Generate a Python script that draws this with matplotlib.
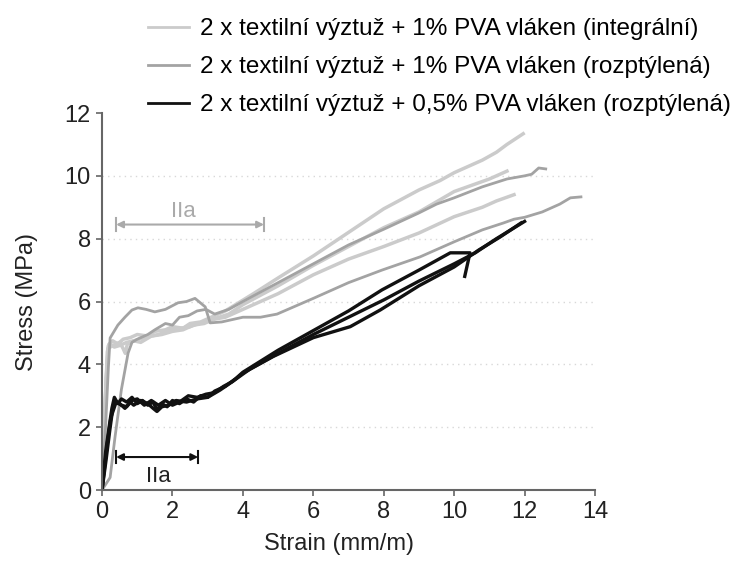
import matplotlib.pyplot as plt
from matplotlib.lines import Line2D

plt.rcParams['font.family'] = ['Liberation Sans', 'DejaVu Sans']

# --- data (strain mm/m, stress MPa) ---
# 2 x textile + 1% PVA fibres (integral) - light grey
int_a_x = [0, 0.05, 0.12, 0.18, 0.3, 0.45, 0.6, 0.8, 1.0, 1.3, 1.5, 1.8, 2.0, 2.3, 2.5, 2.8, 3.0, 3.5, 4.3, 5.0, 6.0, 7.0, 8.0,
           9.0, 9.6, 10.0, 10.8, 11.2, 11.5, 11.96]
int_a_y = [0, 1.5, 3.6, 4.6, 4.75, 4.65, 4.8, 4.85, 4.95, 4.9, 5.05, 5.1, 5.2, 5.15, 5.3, 5.35, 5.45, 5.7, 6.25, 6.75, 7.45, 8.2,
           8.95, 9.55, 9.85, 10.1, 10.5, 10.75, 11.0, 11.34]
int_b_x = [0, 0.08, 0.15, 0.2, 0.35, 0.5, 0.7, 0.9, 1.1, 1.4, 1.7, 2.0, 2.3, 2.6, 2.9, 3.2, 3.6, 4.0, 5.0, 6.0, 7.0, 8.0, 9.0,
           10.0, 10.5, 11.0, 11.5]
int_b_y = [0, 2.5, 4.4, 4.65, 4.55, 4.6, 4.7, 4.75, 4.7, 4.9, 4.95, 5.05, 5.1, 5.25, 5.3, 5.45, 5.6, 5.9, 6.5, 7.15, 7.75, 8.35,
           8.85, 9.5, 9.7, 9.9, 10.15]
int_c_x = [0, 0.1, 0.17, 0.3, 0.5, 0.6, 0.66, 0.72, 0.9, 1.2, 1.6, 2.0, 2.5, 3.0, 3.5, 4.0, 5.0, 6.0, 7.0, 8.0, 9.0, 10.0,
           10.8, 11.2, 11.7]
int_c_y = [0, 3.0, 4.5, 4.6, 4.7, 4.5, 4.35, 4.65, 4.75, 4.85, 4.95, 5.1, 5.2, 5.4, 5.5, 5.75, 6.25, 6.85, 7.35, 7.75, 8.18,
           8.7, 9.0, 9.2, 9.4]

# 2 x textile + 1% PVA fibres (dispersed) - mid grey
dis_a_x = [0, 0.23, 0.37, 0.55, 0.74, 0.85, 1.0, 1.3, 1.5, 1.8, 2.0, 2.2, 2.45, 2.7, 2.95, 3.2, 3.6, 4.0, 5.0, 6.0, 7.0, 8.0,
           9.0, 9.5, 10.0, 10.8, 11.5, 12.0, 12.2, 12.4, 12.6]
dis_a_y = [0, 0.4, 1.7, 3.2, 4.36, 4.7, 4.8, 4.95, 5.1, 5.3, 5.25, 5.5, 5.55, 5.7, 5.75, 5.6, 5.75, 6.0, 6.6, 7.2, 7.8, 8.3,
           8.82, 9.1, 9.3, 9.65, 9.9, 10.0, 10.05, 10.25, 10.22]
dis_b_x = [0, 0.1, 0.18, 0.23, 0.45, 0.65, 0.85, 1.02, 1.25, 1.5, 1.8, 2.16, 2.4, 2.64, 2.93, 3.07, 3.4, 4.0, 4.5, 4.97, 6.0,
           7.0, 7.95, 9.03, 10.0, 10.8, 11.4, 11.7, 12.0, 12.5, 13.0, 13.3, 13.6]
dis_b_y = [0, 2.0, 3.9, 4.84, 5.25, 5.5, 5.73, 5.8, 5.75, 5.67, 5.75, 5.96, 6.0, 6.1, 5.83, 5.32, 5.35, 5.5, 5.5, 5.6, 6.1,
           6.6, 7.0, 7.42, 7.9, 8.28, 8.5, 8.62, 8.68, 8.85, 9.1, 9.3, 9.33]

# 2 x textile + 0.5% PVA fibres (dispersed) - black
blk_a_x = [0, 0.1, 0.2, 0.28, 0.35, 0.45, 0.55, 0.7, 0.85, 1.0, 1.15, 1.3, 1.45, 1.56, 1.7, 1.85, 2.0, 2.2, 2.4, 2.6, 2.8,
           3.0, 3.2, 3.5, 3.8, 4.0, 4.5, 5.0, 6.2, 7.0, 7.95, 9.0, 9.89, 10.45, 10.3]
blk_a_y = [0, 1.2, 2.0, 2.6, 2.95, 2.75, 2.9, 2.8, 2.95, 2.75, 2.85, 2.7, 2.8, 2.55, 2.75, 2.65, 2.85, 2.75, 2.9, 2.8, 3.0,
           2.95, 3.15, 3.3, 3.55, 3.75, 4.1, 4.45, 5.2, 5.7, 6.37, 7.0, 7.55, 7.55, 6.8]
blk_b_x = [0, 0.12, 0.22, 0.31, 0.4, 0.5, 0.65, 0.8, 0.9, 1.1, 1.3, 1.45, 1.56, 1.7, 1.9, 2.1, 2.4, 2.7, 3.0, 3.35, 3.7,
           4.0, 4.86, 6.0, 7.05, 7.9, 9.0, 10.0, 10.7, 11.3, 11.9]
blk_b_y = [0, 1.0, 1.9, 2.64, 2.8, 2.75, 2.6, 2.8, 2.7, 2.85, 2.75, 2.6, 2.5, 2.65, 2.7, 2.85, 2.8, 2.9, 2.95, 3.18, 3.45,
           3.72, 4.25, 4.85, 5.2, 5.73, 6.5, 7.1, 7.64, 8.05, 8.5]
blk_c_x = [0, 0.15, 0.25, 0.4, 0.55, 0.7, 0.85, 1.0, 1.2, 1.4, 1.6, 1.8, 2.0, 2.2, 2.45, 2.7, 2.95, 3.2, 3.45, 3.7, 4.2,
           5.0, 6.0, 7.0, 8.0, 9.0, 10.0, 10.6, 11.2, 12.0]
blk_c_y = [0, 1.5, 2.3, 2.8, 2.7, 2.65, 2.85, 2.9, 2.7, 2.85, 2.7, 2.85, 2.7, 2.8, 3.0, 2.95, 3.05, 3.1, 3.3, 3.45, 3.85,
           4.35, 4.95, 5.5, 6.05, 6.65, 7.2, 7.55, 8.0, 8.55]

labels = ['2 x textilní výztuž + 1% PVA vláken (integrální)',
          '2 x textilní výztuž + 1% PVA vláken (rozptýlená)',
          '2 x textilní výztuž + 0,5% PVA vláken (rozptýlená)']
colors = ['#cbcbcb', '#a3a3a3', '#111111']

fig = plt.figure(figsize=(7.41, 5.65), dpi=100)
ax = fig.add_axes([0.1377, 0.1327, 0.6653, 0.6673])

for yg in [2, 4, 6, 8, 10]:
    ax.axhline(yg, color='#d8d8d8', lw=1, ls=(0, (1, 3)), zorder=0)

for xs, ys in [(int_a_x, int_a_y), (int_b_x, int_b_y), (int_c_x, int_c_y)]:
    ax.plot(xs, ys, color=colors[0], lw=2.5)
for xs, ys in [(dis_a_x, dis_a_y), (dis_b_x, dis_b_y)]:
    ax.plot(xs, ys, color=colors[1], lw=2)
for xs, ys in [(blk_a_x, blk_a_y), (blk_b_x, blk_b_y), (blk_c_x, blk_c_y)]:
    ax.plot(xs, ys, color=colors[2], lw=2.4)

# IIa range markers
def range_marker(x0, x1, y, col):
    ax.annotate('', xy=(x0, y), xytext=(x1, y),
                arrowprops=dict(arrowstyle='<|-|>', color=col, lw=1.5, mutation_scale=10,
                                shrinkA=0, shrinkB=0))
    ax.plot([x0, x0], [y - 0.2, y + 0.2], color=col, lw=1.5)
    ax.plot([x1, x1], [y - 0.2, y + 0.2], color=col, lw=1.5)

range_marker(0.4, 4.6, 8.45, '#aaaaaa')
ax.text(2.3, 8.85, 'IIa', color='#aaaaaa', fontsize=16, ha='center', va='center')
range_marker(0.4, 2.73, 1.05, '#111111')
ax.text(1.6, 0.42, 'IIa', color='#222222', fontsize=16, ha='center', va='center')

ax.set_xlim(0, 14)
ax.set_ylim(0, 12)
ax.set_xticks(range(0, 15, 2))
ax.set_yticks(range(0, 13, 2))
for s in ['top', 'right']:
    ax.spines[s].set_visible(False)
for s in ['left', 'bottom']:
    ax.spines[s].set_color('#666666')
    ax.spines[s].set_linewidth(1.5)
ax.tick_params(colors='#666666', labelcolor='#222222', labelsize=17, length=4, width=1.2, pad=4)

ax.set_xlabel('Strain (mm/m)', fontsize=17, color='#222222')
ax.set_ylabel('Stress (MPa)', fontsize=17, color='#222222')
ax.xaxis.set_label_coords(0.48, -0.115)
ax.yaxis.set_label_coords(-0.13, 0.5)

handles = [Line2D([], [], color=c, lw=2) for c in colors]
fig.legend(handles, labels, loc='upper left', bbox_to_anchor=(148 / 741, 1 - 18 / 565),
           frameon=False, fontsize=17.5, handlelength=1.7, handletextpad=0.45,
           labelspacing=0.66, borderpad=0, borderaxespad=0)

fig.savefig('out.png', dpi=100)
